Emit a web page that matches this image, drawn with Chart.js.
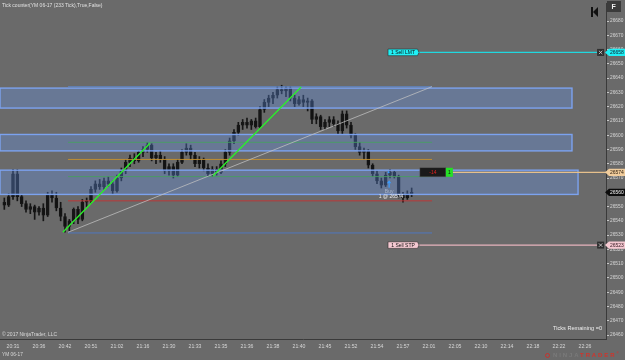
<!DOCTYPE html>
<html><head><meta charset="utf-8">
<script src="https://cdn.jsdelivr.net/npm/chart.js@4.4.1/dist/chart.umd.min.js"></script>
<style>
html,body{margin:0;padding:0;background:#6a6a6a;overflow:hidden}
#wrap{position:relative;width:625px;height:360px;font-family:"Liberation Sans",Arial,sans-serif}
canvas{position:absolute;left:0;top:0}
.t{position:absolute;white-space:nowrap;color:#e0e0e0;line-height:1}
</style></head><body>
<div id="wrap">
<canvas id="c" width="625" height="360"></canvas>
<div class="t" style="left:2px;top:2.5px;font-size:5px">Tick counter(YM 06-17 (233 Tick),True,False)</div>
<div class="t" style="left:2px;top:331.5px;font-size:5px;color:#d8d8d8">© 2017 NinjaTrader, LLC</div>
<div class="t" style="left:2px;top:352.5px;font-size:4.8px;color:#d8d8d8">YM 06-17</div>
<div class="t" style="left:553px;top:326px;font-size:5.6px;color:#eeeeee">Ticks Remaining =0</div>
<div style="position:absolute;left:607px;top:1px;width:14px;height:11px;background:#3b3b3b"></div>
<div class="t" style="left:611.5px;top:3px;font-size:7px;color:#f0f0f0;font-weight:bold">F</div>
<div style="position:absolute;left:591px;top:7px;width:2px;height:10px;background:#111"></div>
<div style="position:absolute;left:593px;top:7px;width:0;height:0;border-top:5px solid transparent;border-bottom:5px solid transparent;border-right:5px solid #111"></div>
<div style="position:absolute;left:545px;top:352.5px;width:5px;height:5px;border-radius:50%;border:1px solid #c8322c;box-sizing:border-box"></div>
<div class="t" style="left:553px;top:352px;font-size:6px;letter-spacing:1.9px;font-weight:bold"><span style="color:#7a7a7a">NINJA</span><span style="color:#d0342c">TRADER</span><span style="color:#d0342c;font-size:3px;vertical-align:top">®</span></div>
</div>
<script>
// ---- data ----
const opens  = [26553,26551,26557,26573,26557,26552,26548,26550,26546,26549,26544,26558,26556,26549,26543,26536,26540,26548,26541,26553,26554,26562,26566,26564,26568,26566,26561,26570,26575,26581,26584,26582,26588,26590,26593,26584,26586,26583,26575,26578,26572,26581,26588,26591,26586,26580,26583,26577,26573,26576,26574,26580,26588,26596,26602,26607,26609,26607,26610,26606,26618,26623,26626,26628,26632,26631,26633,26626,26622,26625,26623,26624,26611,26613,26606,26609,26611,26608,26603,26615,26607,26600,26592,26588,26589,26579,26573,26568,26565,26572,26574,26571,26558,26556,26559];
const highs  = [26556,26559,26576,26576,26558,26554,26552,26551,26550,26552,26560,26561,26560,26553,26545,26541,26549,26550,26555,26556,26564,26568,26569,26570,26571,26568,26572,26577,26583,26586,26587,26589,26592,26595,26594,26588,26589,26585,26580,26580,26583,26590,26594,26593,26588,26585,26584,26580,26578,26578,26582,26590,26598,26604,26609,26611,26612,26611,26612,26620,26625,26628,26630,26634,26635,26634,26634,26628,26627,26628,26626,26625,26615,26614,26611,26613,26613,26610,26617,26617,26609,26601,26595,26591,26590,26580,26575,26570,26574,26576,26575,26572,26560,26561,26563];
const lows   = [26548,26550,26555,26554,26550,26546,26545,26541,26544,26540,26543,26553,26547,26540,26532,26533,26538,26538,26540,26550,26552,26560,26562,26562,26564,26559,26560,26568,26573,26578,26580,26581,26585,26588,26582,26580,26581,26573,26572,26570,26571,26580,26586,26583,26578,26577,26575,26571,26571,26572,26573,26578,26586,26594,26600,26604,26605,26604,26605,26605,26616,26620,26622,26626,26629,26627,26624,26620,26621,26620,26617,26608,26608,26604,26604,26606,26606,26601,26601,26605,26598,26590,26586,26583,26577,26571,26566,26563,26564,26570,26570,26556,26553,26555,26557];
const closes = [26551,26557,26573,26557,26552,26548,26550,26546,26549,26544,26558,26556,26549,26543,26536,26540,26548,26541,26553,26554,26562,26566,26564,26568,26566,26561,26570,26575,26581,26584,26582,26588,26590,26593,26584,26586,26583,26575,26578,26572,26581,26588,26591,26586,26580,26583,26577,26573,26576,26574,26580,26588,26596,26602,26607,26609,26607,26610,26606,26618,26623,26626,26628,26632,26631,26633,26626,26622,26625,26623,26624,26611,26613,26606,26609,26611,26608,26603,26615,26607,26600,26592,26588,26589,26579,26573,26568,26565,26572,26574,26571,26558,26556,26559,26560];

const xTickIndex  = [2,8,14,20,26,32,38,44,50,56,62,68,74,80,86,92,98,104,110,116,122,128,134];
const xTickLabels = ["20:31","20:36","20:42","20:51","21:02","21:16","21:30","21:33","21:35","21:36","21:38","21:40","21:45","21:52","21:54","21:57","22:01","22:05","22:10","22:14","22:18","22:22","22:26"];
const yTickValues = [26460,26470,26480,26490,26500,26510,26520,26530,26540,26550,26560,26570,26580,26590,26600,26610,26620,26630,26640,26650,26660,26670,26680];

const zoneTop    = [26633, 26600.5, 26575.5];
const zoneBottom = [26619, 26589, 26558.5];
const zoneFrom   = [-1, -1, -1];
const zoneTo     = [131.0, 131.0, 132.4];

const levelPrices = [26634, 26595, 26583, 26571, 26554, 26531.5];
const levelFrom = 14.7, levelTo = 98.7;

const grayTrendX = [14.7, 98.7],  grayTrendY = [26532, 26634];
const green1X    = [13.5, 33.6],  green1Y    = [26532, 26594.3];
const green2X    = [48.2, 68.5],  green2Y    = [26571.5, 26633.8];

const sellLimit = 26658, sellStop = 26523, avgPrice = 26574, lastPrice = 26560;
const orderFrom = 95.7, orderTo = 136.8;
const positionFrom = 95.9, positionTo = 138.85;
const positionQty = "1", positionPnl = "-14";
const buyIndex = 88.8, buyArrowPrice = 26568.5, buyText = "Buy", buyFillText = "1 @ 26574";

const xMin = -1, xMax = 138.85, yMin = 26457.2, yMax = 26692;

// ---- styles ----
const levelColors = ['rgba(95,135,200,0.9)','rgba(70,160,95,0.85)','rgba(200,145,45,0.9)','rgba(70,160,95,0.85)','rgba(195,50,50,0.9)','rgba(75,120,200,0.9)'];
const FONT = '"Liberation Sans", Arial, sans-serif';

const idx = opens.map((_, i) => i);
const wickData = idx.map(i => ({x: i, y: [lows[i], highs[i]]}));
const bodyData = idx.map(i => ({x: i, y: [opens[i], closes[i]]}));
const bodyFill = idx.map(i => closes[i] > opens[i] ? 'rgba(0,0,0,0)' : '#121212');

const seg = (xs, ys) => xs.map((v, k) => ({x: v, y: ys[k]}));
const lineDs = (label, data, color, width, order) => ({type:'line', label, data, borderColor: color, borderWidth: width, pointRadius: 0, fill: false, order, tension: 0});

const datasets = [
  {type:'bar', label:'wicks', data: wickData, backgroundColor:'#161616', barThickness:1, grouped:false, order:4, borderWidth:0},
  {type:'bar', label:'bodies', data: bodyData, backgroundColor: bodyFill, borderColor:'#161616', borderWidth:1, borderSkipped:false, barThickness:3, grouped:false, order:3}
];
levelPrices.forEach((p, k) => datasets.push(lineDs('level'+k, seg([levelFrom, levelTo], [p, p]), levelColors[k], 1, 2)));
datasets.push(lineDs('grayTrend', seg(grayTrendX, grayTrendY), 'rgba(195,195,195,0.75)', 1, 1));
datasets.push(lineDs('green1', seg(green1X, green1Y), '#2bee2b', 1.4, 0));
datasets.push(lineDs('green2', seg(green2X, green2Y), '#2bee2b', 1.4, 0));
datasets.push(lineDs('sellLmt', seg([orderFrom, orderTo], [sellLimit, sellLimit]), '#20d8e0', 1.2, 1));
datasets.push(lineDs('sellStp', seg([orderFrom, orderTo], [sellStop, sellStop]), '#e8b4be', 1.2, 1));
datasets.push(lineDs('position', seg([positionFrom + 7.6, positionTo], [avgPrice, avgPrice]), '#e6c08c', 1.2, 1));

const overlay = {
  id: 'overlay',
  afterDatasetDraw(chart, args) {
    if (chart.data.datasets[args.index].label !== 'bodies') return;
    const {ctx, chartArea: a, scales: {x, y}} = chart;
    ctx.save();
    ctx.beginPath(); ctx.rect(a.left, a.top, a.width, a.height); ctx.clip();
    zoneTop.forEach((t, k) => {
      const x0 = x.getPixelForValue(zoneFrom[k]), x1 = x.getPixelForValue(zoneTo[k]);
      const y0 = y.getPixelForValue(t), y1 = y.getPixelForValue(zoneBottom[k]);
      ctx.fillStyle = 'rgba(100,149,237,0.33)';
      ctx.fillRect(x0, y0, x1 - x0, y1 - y0);
      ctx.strokeStyle = 'rgba(125,165,245,0.95)';
      ctx.lineWidth = 1.4;
      ctx.strokeRect(x0, y0, x1 - x0, y1 - y0);
    });
    ctx.restore();
  },
  afterDraw(chart) {
    const {ctx, scales: {x, y}} = chart;
    ctx.save();
    ctx.textBaseline = 'middle';
    // buy execution marker
    const bx = x.getPixelForValue(buyIndex), by = y.getPixelForValue(buyArrowPrice);
    ctx.fillStyle = '#3a9cff';
    ctx.beginPath(); ctx.moveTo(bx, by); ctx.lineTo(bx - 2.2, by + 3); ctx.lineTo(bx + 2.2, by + 3); ctx.closePath(); ctx.fill();
    ctx.fillRect(bx - 0.6, by + 3, 1.2, 4.5);
    ctx.beginPath(); ctx.arc(bx - 0.5, y.getPixelForValue(avgPrice) , 1, 0, Math.PI * 2); ctx.fill();
    ctx.font = '5px ' + FONT; ctx.textAlign = 'center';
    ctx.fillStyle = '#a9b6cc'; ctx.fillText(buyText, bx, by + 11);
    ctx.fillStyle = '#e8e8e8'; ctx.fillText(buyFillText, bx + 2, by + 16.5);

    // order boxes
    const orderBox = (price, text, fill) => {
      const yc = y.getPixelForValue(price), xr = x.getPixelForValue(orderFrom);
      ctx.fillStyle = fill; ctx.strokeStyle = '#2a2a2a'; ctx.lineWidth = 0.6;
      ctx.beginPath(); ctx.moveTo(xr - 31, yc - 3.3); ctx.lineTo(xr - 1.5, yc - 3.3); ctx.lineTo(xr, yc); ctx.lineTo(xr - 1.5, yc + 3.3); ctx.lineTo(xr - 31, yc + 3.3); ctx.closePath(); ctx.fill(); ctx.stroke();
      ctx.fillStyle = '#111'; ctx.font = '5px ' + FONT; ctx.textAlign = 'center';
      ctx.fillText(text, xr - 16, yc + 0.3);
      const xc = x.getPixelForValue(orderTo);
      ctx.fillStyle = '#2e2e2e'; ctx.fillRect(xc, yc - 3.5, 7, 7);
      ctx.strokeStyle = '#dddddd'; ctx.lineWidth = 0.8;
      ctx.beginPath(); ctx.moveTo(xc + 1.8, yc - 1.7); ctx.lineTo(xc + 5.2, yc + 1.7); ctx.moveTo(xc + 5.2, yc - 1.7); ctx.lineTo(xc + 1.8, yc + 1.7); ctx.stroke();
    };
    orderBox(sellLimit, '1 Sell LMT', '#1ff0f5');
    orderBox(sellStop, '1 Sell STP', '#f6c9d2');

    // position box
    const py = y.getPixelForValue(avgPrice), px = x.getPixelForValue(positionFrom);
    ctx.fillStyle = '#1a1a1a'; ctx.fillRect(px, py - 4.5, 26, 9);
    ctx.strokeStyle = '#555'; ctx.lineWidth = 0.5; ctx.strokeRect(px, py - 4.5, 26, 9);
    ctx.fillStyle = '#25e025'; ctx.fillRect(px + 26, py - 4.5, 7, 9);
    ctx.font = '5px ' + FONT; ctx.textAlign = 'center';
    ctx.fillStyle = '#e02020'; ctx.fillText(positionPnl, px + 13, py + 0.3);
    ctx.fillStyle = '#111'; ctx.fillText(positionQty, px + 29.5, py + 0.3);

    // axis price tags
    const tag = (price, fill, color) => {
      const yc = y.getPixelForValue(price), x0 = chart.chartArea.right - 1;
      ctx.fillStyle = fill;
      ctx.beginPath(); ctx.moveTo(x0, yc); ctx.lineTo(x0 + 4, yc - 3.6); ctx.lineTo(625, yc - 3.6); ctx.lineTo(625, yc + 3.6); ctx.lineTo(x0 + 4, yc + 3.6); ctx.closePath(); ctx.fill();
      ctx.fillStyle = color; ctx.font = '5px ' + FONT; ctx.textAlign = 'left';
      ctx.fillText(String(price), x0 + 5, yc + 0.3);
    };
    tag(sellLimit, '#1ff0f5', '#102030');
    tag(avgPrice, '#f0cc9c', '#302010');
    tag(lastPrice, '#0c0c0c', '#f2f2f2');
    tag(sellStop, '#f6c9d2', '#301820');
    ctx.restore();
  }
};

new Chart(document.getElementById('c'), {
  type: 'bar',
  data: {datasets},
  options: {
    responsive: false,
    devicePixelRatio: 1,
    animation: false,
    layout: {padding: 0},
    plugins: {legend: {display: false}, tooltip: {enabled: false}, title: {display: false}},
    scales: {
      x: {
        type: 'linear', min: xMin, max: xMax, offset: false,
        grid: {display: false, offset: false, drawTicks: false},
        border: {display: true, color: '#3a3a3a', width: 1},
        afterBuildTicks: s => { s.ticks = xTickIndex.map(v => ({value: v})); },
        afterFit: s => { s.height = 21; },
        ticks: {autoSkip: false, maxRotation: 0, padding: 4, color: '#d6d6d6', font: {size: 5.2, family: FONT},
          callback: v => { const k = xTickIndex.indexOf(v); return k >= 0 ? xTickLabels[k] : ''; }}
      },
      y: {
        type: 'linear', position: 'right', min: yMin, max: yMax,
        grid: {display: true, drawOnChartArea: false, drawTicks: true, tickLength: 3, color: '#c8c8c8'},
        border: {display: true, color: '#3a3a3a', width: 1},
        afterBuildTicks: s => { s.ticks = yTickValues.map(v => ({value: v})); },
        afterFit: s => { s.width = 19; },
        ticks: {padding: 1, color: '#d6d6d6', font: {size: 4.8, family: FONT}, callback: v => String(v)}
      }
    }
  },
  plugins: [overlay]
});
</script>
</body></html>
